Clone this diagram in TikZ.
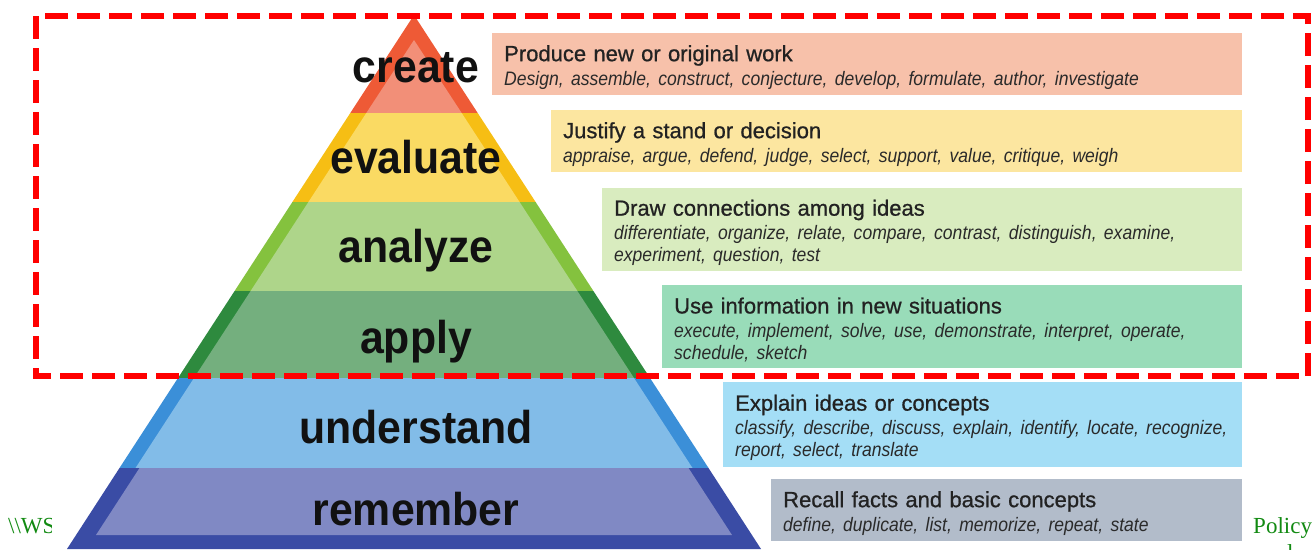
\documentclass[tikz,border=0pt]{standalone}
\usepackage{fontspec}
\setmainfont{Liberation Sans}
\newfontfamily\levelfont{Liberation Sans}[FakeStretch=0.93]
\newfontfamily\titlefont{Liberation Sans}[FakeBold=0.8]
\newfontfamily\verbfont{Liberation Sans}[FakeStretch=0.9]
\newfontfamily\notefont{Liberation Serif}
\usepackage{tikz}
\usetikzlibrary{positioning}
\usepackage{xcolor}
\definecolor{createdark}{HTML}{EE5A36}
\definecolor{createlight}{HTML}{F28F78}
\definecolor{createbox}{HTML}{F7C1AA}
\definecolor{evaldark}{HTML}{F6BE14}
\definecolor{evallight}{HTML}{FADA63}
\definecolor{evalbox}{HTML}{FCE6A0}
\definecolor{analyzedark}{HTML}{84C23E}
\definecolor{analyzelight}{HTML}{AED58A}
\definecolor{analyzebox}{HTML}{D9ECBF}
\definecolor{applydark}{HTML}{2E8A3E}
\definecolor{applylight}{HTML}{74AF7E}
\definecolor{applybox}{HTML}{99DCB9}
\definecolor{understanddark}{HTML}{3B8FD8}
\definecolor{understandlight}{HTML}{82BCE8}
\definecolor{understandbox}{HTML}{A4DEF6}
\definecolor{rememberdark}{HTML}{3A4CA5}
\definecolor{rememberlight}{HTML}{8089C4}
\definecolor{rememberbox}{HTML}{B2BCCA}
\definecolor{lvltext}{HTML}{111111}
\definecolor{desctext}{HTML}{222222}
\definecolor{verbtext}{HTML}{2A2A2A}
\definecolor{straygreen}{HTML}{128A12}
\definecolor{focusred}{HTML}{FF0000}
\newcommand\verbstyle{\verbfont\itshape\fontsize{19.5}{22}\selectfont\color{verbtext}}
\newcommand\titlestrut{\rule{0pt}{22pt}}
\tikzset{
  lvllabel/.style   = {anchor=base, inner sep=0pt, text=lvltext,
                       font=\levelfont\bfseries\fontsize{46}{50}\selectfont},
  descbox/.style    = {anchor=north west, align=left, inner xsep=12pt,
                       inner ysep=0pt, text=desctext,
                       font=\titlefont\frenchspacing\fontsize{22}{22}\selectfont},
  strayword/.style  = {anchor=base west, inner sep=0pt, text=straygreen,
                       font=\notefont\fontsize{23}{27}\selectfont},
  focusframe/.style = {draw=focusred, line width=6.5pt,
                       dash pattern=on 23pt off 9pt}
}

\begin{document}
\begin{tikzpicture}[x=1pt, y=-1pt]
  \useasboundingbox (0,0) rectangle (1314,549);

  % stray slide text
  \begin{scope}
    \clip (0,500) rectangle (51,549);
    \node[strayword] (wsnote) at (8,533) {\textbackslash\textbackslash WS};
  \end{scope}
  \node[strayword] (policynote) at (1253,533) {Policy};
  \node[strayword] (policynext) at (1287,560) {l};

  % pyramid bands
  \fill[createdark]  (414,15) -- (477.7,113) -- (350.3,113) -- cycle;
  \fill[createlight] (414,40) -- (461.7,113) -- (366.3,113) -- cycle;
  \fill[evaldark]    (350.3,113) -- (477.7,113) -- (535.6,202) -- (292.4,202) -- cycle;
  \fill[evallight]   (366.3,113) -- (461.7,113) -- (519.6,202) -- (308.4,202) -- cycle;
  \fill[analyzedark] (292.4,202) -- (535.6,202) -- (593.4,291) -- (234.6,291) -- cycle;
  \fill[analyzelight](308.4,202) -- (519.6,202) -- (577.4,291) -- (250.6,291) -- cycle;
  \fill[applydark]   (234.6,291) -- (593.4,291) -- (650,378) -- (178,378) -- cycle;
  \fill[applylight]  (250.6,291) -- (577.4,291) -- (634,378) -- (194,378) -- cycle;
  \fill[understanddark] (178,378) -- (650,378) -- (708.5,468) -- (119.5,468) -- cycle;
  \fill[understandlight](194,378) -- (634,378) -- (692.5,468) -- (135.5,468) -- cycle;
  \fill[rememberdark]   (119.5,468) -- (708.5,468) -- (761,549) -- (67,549) -- cycle;
  \fill[rememberlight]  (139.5,468) -- (688.5,468) -- (732,535) -- (96,535) -- cycle;

  \node[lvllabel] (create)     at (416,82)  {create};
  \node[lvllabel] (evaluate)   at (416,173) {evaluate};
  \node[lvllabel] (analyze)    at (416,262) {analyze};
  \node[lvllabel] (apply)      at (416,353) {apply};
  \node[lvllabel] (understand) at (416,443) {understand};
  \node[lvllabel] (remember)   at (416,525) {remember};

  % descriptions
  \node[descbox, fill=createbox, text width=726pt, minimum height=62pt]
        (createdesc) at (492,33) {\titlestrut Produce new or original work\\[2pt]
        \verbstyle Design, assemble, construct, conjecture, develop, formulate, author, investigate};
  \node[descbox, fill=evalbox, text width=667pt, minimum height=62pt]
        (evaldesc) at (551,110) {\titlestrut Justify a stand or decision\\[2pt]
        \verbstyle appraise, argue, defend, judge, select, support, value, critique, weigh};
  \node[descbox, fill=analyzebox, text width=616pt, minimum height=83pt]
        (analyzedesc) at (602,188) {\titlestrut Draw connections among ideas\\[2pt]
        \verbstyle differentiate, organize, relate, compare, contrast, distinguish, examine,\\
        experiment, question, test};
  \node[descbox, fill=applybox, text width=556pt, minimum height=83pt]
        (applydesc) at (662,285) {\titlestrut Use information in new situations\\[2pt]
        \verbstyle execute, implement, solve, use, demonstrate, interpret, operate,\\
        schedule, sketch};
  \node[descbox, fill=understandbox, text width=495pt, minimum height=85pt]
        (understanddesc) at (723,382) {\titlestrut Explain ideas or concepts\\[2pt]
        \verbstyle classify, describe, discuss, explain, identify, locate, recognize,\\
        report, select, translate};
  \node[descbox, fill=rememberbox, text width=447pt, minimum height=62pt]
        (rememberdesc) at (771,479) {\titlestrut Recall facts and basic concepts\\[2pt]
        \verbstyle define, duplicate, list, memorize, repeat, state};

  % highlighted upper levels
  \draw[focusframe] (36,16) rectangle (1308,376);
\end{tikzpicture}
\end{document}
